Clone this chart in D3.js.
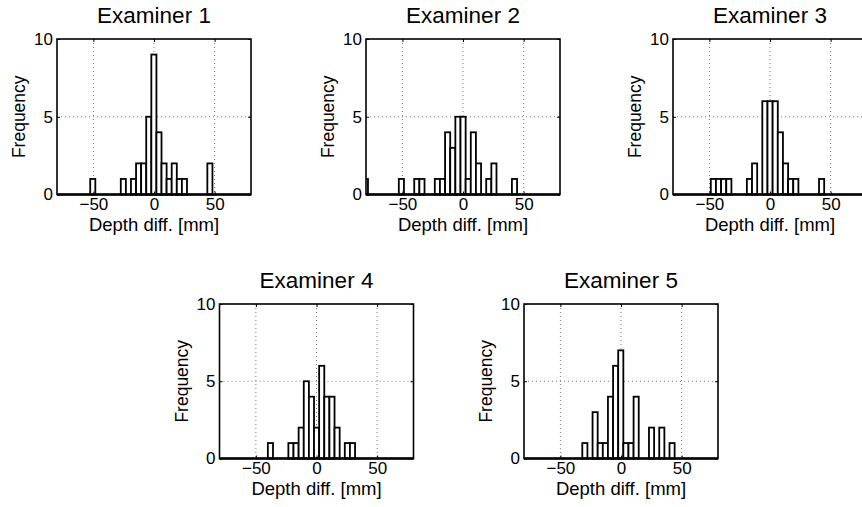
<!DOCTYPE html>
<html>
<head>
<meta charset="utf-8">
<script src="https://cdn.jsdelivr.net/npm/d3@7"></script>
<style>
  html, body { margin: 0; padding: 0; background: #fff; }
  svg { display: block; font-family: "Liberation Sans", Arial, Helvetica, sans-serif; }
</style>
</head>
<body>
<svg id="chart" width="862" height="507"></svg>
<script>
// ---- data ----
const examiners = ["Examiner 1", "Examiner 2", "Examiner 3", "Examiner 4", "Examiner 5"];
// centre of the first histogram bin (mm) and bin width (mm) per examiner
const binFirstCenter = [-50.5, -80.5, -46.7, -38.0, -29.8];
const binWidth = [4.2, 4.24, 4.25, 4.23, 4.23];
// counts per bin
const counts1 = [1,0,0,0,0,0,1,0,1,2,2,5,9,4,2,1,2,1,1,0,0,0,0,2];
const counts2 = [1,0,0,0,0,0,0,1,0,0,1,1,0,0,1,1,4,3,5,5,1,4,2,0,1,2,0,0,0,1];
const counts3 = [1,1,1,1,0,0,0,1,2,0,6,6,6,4,2,1,1,0,0,0,0,1];
const counts4 = [1,0,0,0,1,1,2,5,4,2,6,4,4,2,0,1,1];
const counts5 = [1,0,3,1,1,4,6,7,1,1,4,0,0,2,0,2,0,1];
const allCounts = [counts1, counts2, counts3, counts4, counts5];
const xTicks = [-50, 0, 50];
const yTicks = [0, 5, 10];
const xDomain = [-80, 80];
const yDomain = [0, 10];
const xLabel = "Depth diff. [mm]";
const yLabel = "Frequency";

// ---- layout ----
const W = 194;
const layout = [
  {left: 57,  top: 39,  bottom: 194.5},
  {left: 366, top: 39,  bottom: 194.5},
  {left: 673, top: 39,  bottom: 194.5},
  {left: 219.5, top: 304, bottom: 458.5},
  {left: 524, top: 304, bottom: 458.5}
];

const svg = d3.select("#chart");

examiners.forEach((name, p) => {
  const L = layout[p];
  const H = L.bottom - L.top;
  const g = svg.append("g").attr("transform", `translate(${L.left},${L.top})`);
  const x = d3.scaleLinear().domain(xDomain).range([0, W]);
  const y = d3.scaleLinear().domain(yDomain).range([H, 0]);

  const clipId = "clip" + p;
  g.append("clipPath").attr("id", clipId)
    .append("rect").attr("x", 0).attr("y", -2).attr("width", W).attr("height", H + 4);

  // grid
  const grid = g.append("g").attr("stroke", "#777").attr("stroke-width", 1)
    .attr("stroke-dasharray", "1,3");
  xTicks.forEach(t => grid.append("line")
    .attr("x1", x(t)).attr("x2", x(t)).attr("y1", 0).attr("y2", H));
  yTicks.filter(t => t > yDomain[0] && t < yDomain[1]).forEach(t => grid.append("line")
    .attr("x1", 0).attr("x2", W).attr("y1", y(t)).attr("y2", y(t)));

  // bars
  const counts = allCounts[p];
  const bins = counts.map((c, i) => {
    const ctr = binFirstCenter[p] + i * binWidth[p];
    return {x0: ctr - binWidth[p] / 2, x1: ctr + binWidth[p] / 2, n: c};
  }).filter(b => b.n > 0);
  g.append("g").attr("clip-path", `url(#${clipId})`)
    .selectAll("rect").data(bins).join("rect")
    .attr("x", d => x(d.x0))
    .attr("width", d => x(d.x1) - x(d.x0))
    .attr("y", d => y(d.n))
    .attr("height", d => y(0) - y(d.n))
    .attr("fill", "#fff")
    .attr("stroke", "#000")
    .attr("stroke-width", 1.8);

  // axes
  const ax = g.append("g").attr("transform", `translate(0,${H})`)
    .call(d3.axisBottom(x).tickValues(xTicks).tickSize(-3).tickPadding(3));
  const axTop = g.append("g")
    .call(d3.axisTop(x).tickValues(xTicks).tickSize(-3).tickFormat(""));
  const ay = g.append("g")
    .call(d3.axisLeft(y).tickValues(yTicks).tickSize(-3).tickPadding(4));
  const ayR = g.append("g").attr("transform", `translate(${W},0)`)
    .call(d3.axisRight(y).tickValues(yTicks).tickSize(-3).tickFormat(""));
  [ax, axTop, ay, ayR].forEach(a => {
    a.select(".domain").remove();
    a.selectAll(".tick line").attr("stroke", "#000").attr("stroke-width", 1);
    a.selectAll("text").attr("font-size", 17).attr("fill", "#000")
      .attr("font-family", "Liberation Sans, Arial, sans-serif");
  });

  // box
  g.append("rect").attr("x", 0).attr("y", 0).attr("width", W).attr("height", H)
    .attr("fill", "none").attr("stroke", "#000").attr("stroke-width", 1.6);
  g.append("line").attr("x1", 0).attr("x2", W).attr("y1", H).attr("y2", H)
    .attr("stroke", "#000").attr("stroke-width", 2.4);

  // title
  g.append("text").attr("x", W / 2).attr("y", -16)
    .attr("text-anchor", "middle").attr("font-size", 22.5).attr("fill", "#000")
    .text(name);
  // x label
  g.append("text").attr("x", W / 2).attr("y", H + 36)
    .attr("text-anchor", "middle").attr("font-size", 18.5).attr("fill", "#000")
    .text(xLabel);
  // y label
  g.append("text")
    .attr("transform", `translate(-32,${H / 2}) rotate(-90)`)
    .attr("text-anchor", "middle").attr("font-size", 17.5).attr("fill", "#000")
    .text(yLabel);
});
</script>
</body>
</html>
